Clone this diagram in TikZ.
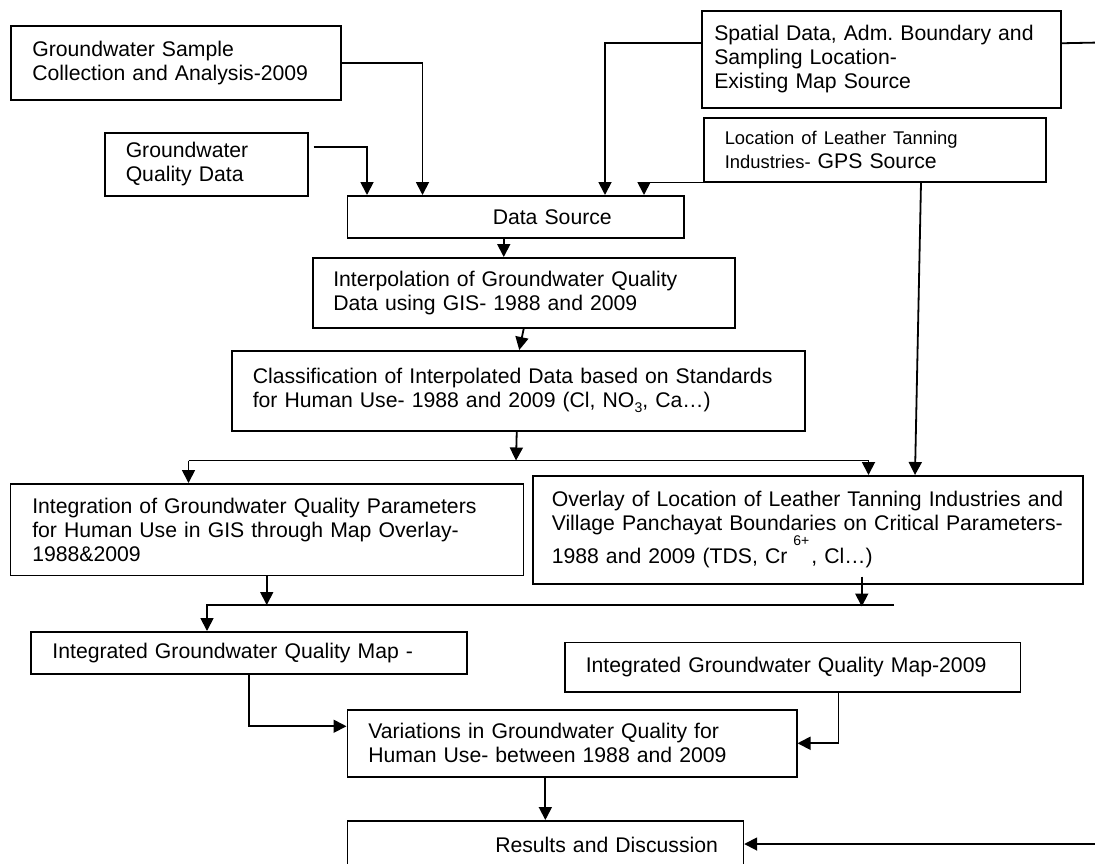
\documentclass[tikz,border=0pt]{standalone}
\usepackage{fontspec}
\setmainfont{Liberation Sans}
\frenchspacing
\usetikzlibrary{arrows.meta}
\tikzset{
  stage/.style={draw, line width=1.5pt, anchor=north west, align=left, inner ysep=0pt,
    font=\fontsize{21.2}{24}\selectfont},
  wire/.style={line width=1.8pt},
  flow/.style={wire, -{Triangle[width=13pt,length=13pt]}}
}
\begin{document}
\begin{tikzpicture}[x=1pt,y=-1pt]
      \useasboundingbox (0,0) rectangle (1095,863);
      \draw
        (10,25) node[stage, minimum width=330pt, minimum height=74pt, inner xsep=21.6pt, text width=286.8pt] (sample)
          {Groundwater Sample\\Collection and Analysis-2009}
        (104,132) node[stage, minimum width=203pt, minimum height=63pt, inner xsep=21pt, text width=161pt] (gwdata)
          {Groundwater\\Quality Data}
        (701,10) node[stage, minimum width=359pt, minimum height=97pt, inner xsep=12.5pt, text width=334pt] (spatial)
          {Spatial Data, Adm. Boundary and\\Sampling Location-\\Existing Map Source}
        (703,117) node[stage, minimum width=342pt, minimum height=64pt, inner xsep=21pt, text width=300pt] (tanning)
          {\fontsize{18.4}{21}\selectfont Location of Leather Tanning\\Industries-\fontsize{21.2}{21}\selectfont{} GPS Source}
        (346.5,195) node[stage, minimum width=336.5pt, minimum height=42pt, inner xsep=10pt, text width=316.5pt] (source)
          {\hspace*{135.5pt}Data Source}
        (312,257) node[stage, minimum width=422pt, minimum height=70pt, inner xsep=20.5pt, text width=381pt] (interp)
          {Interpolation of Groundwater Quality\\Data using GIS- 1988 and 2009}
        (231,350) node[stage, minimum width=573pt, minimum height=80pt, inner xsep=21pt, text width=531pt] (classif)
          {Classification of Interpolated Data based on Standards\\for Human Use- 1988 and 2009 (Cl, NO\raisebox{-5pt}{\fontsize{14}{14}\selectfont 3}, Ca…)}
        (9.5,483) node[stage, minimum width=513pt, minimum height=91.5pt, inner xsep=22pt, text width=469pt] (integ)
          {Integration of Groundwater Quality Parameters\\for Human Use in GIS through Map Overlay-\\1988\&2009}
        (532,475) node[stage, minimum width=550pt, minimum height=108pt, inner xsep=19pt, text width=512pt] (overlay)
          {Overlay of Location of Leather Tanning Industries and\\Village Panchayat Boundaries on Critical Parameters-\\1988 and 2009 (TDS, Cr\kern6pt\raisebox{18pt}{\fontsize{14}{14}\selectfont 6+}\kern2pt, Cl…)}
        (30,631) node[stage, minimum width=436pt, minimum height=42pt, inner xsep=21.7pt, text width=392.6pt] (map88)
          {Integrated Groundwater Quality Map -}
        (564,641.7) node[stage, minimum width=455.6pt, minimum height=49.3pt, inner xsep=21pt, text width=413.6pt] (map09)
          {Integrated Groundwater Quality Map-2009}
        (346.5,709) node[stage, minimum width=449.5pt, minimum height=67pt, inner xsep=21pt, text width=407.5pt] (variation)
          {Variations in Groundwater Quality for\\Human Use- between 1988 and 2009}
        (346.5,820) node[stage, minimum width=396.2pt, minimum height=48.6pt, inner xsep=10pt, text width=376.2pt] (results)
          {\hspace*{138pt}Results and Discussion};
      \coordinate (offtop) at (1100,42.5);
      \coordinate (offbot) at (1100,844);
      \coordinate (split) at (516,460.5);
      \coordinate (splitL) at (188.5,460.5);
      \coordinate (splitR) at (868.5,460.5);
      \coordinate (mergeR) at (894,605);
      \begin{scope}[flow]
        \draw (sample.east) -| ([xshift=76pt]source.north west);
        \draw ([xshift=5pt,yshift=17.5pt]gwdata.east) -| ([xshift=20.5pt]source.north west);
        \draw ([yshift=16pt]spatial.west) -| ([xshift=258.5pt]source.north west);
        \draw (tanning.south west) -| ([xshift=297.5pt]source.north west);
        \draw ([xshift=218pt]tanning.south west) to ([xshift=383pt]overlay.north west);
        \draw ([xshift=-11.75pt]source.south) to ([xshift=-20pt]interp.north);
        \draw (interp.south) to ([xshift=1pt]classif.north);
        \draw ([xshift=-1.5pt]classif.south) to (split);
        \draw (splitL) to (splitL |- integ.north);
        \draw (splitL) -| (splitR |- overlay.north);
        \draw (integ.south) to (integ.south |- mergeR);
        \draw ([xshift=54pt,yshift=8pt]overlay.south) to ([xshift=54pt,yshift=-22pt]overlay.south);
        \draw (mergeR) -| ([xshift=177pt]map88.north west);
        \draw (map88.south) |- ([yshift=17pt]variation.west);
        \draw ([xshift=46pt]map09.south) |- (variation.east);
        \draw (variation.south -| results.north) to (results.north);
        \draw (offbot) to (offbot -| results.east);
      \end{scope}
      \draw[wire] ([yshift=16pt]spatial.east) to (offtop);
    \end{tikzpicture}
\end{document}
